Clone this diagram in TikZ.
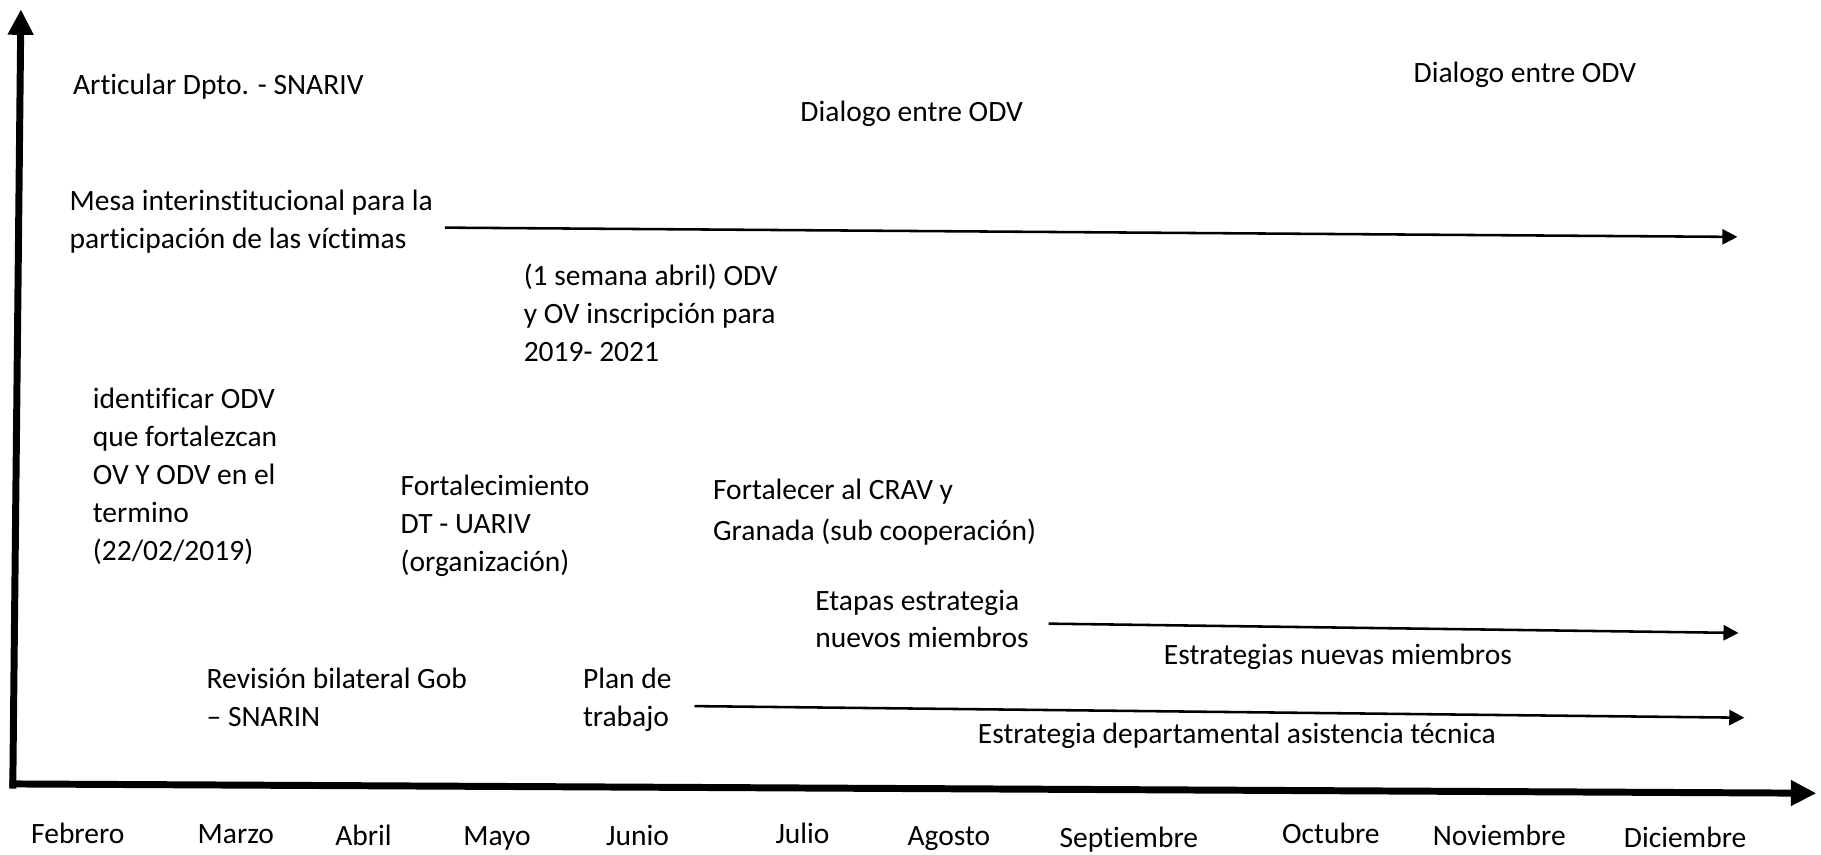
\documentclass[tikz,border=0pt]{standalone}
\usepackage{fontspec}
\setmainfont{Carlito}[Ligatures=NoCommon]
\usetikzlibrary{arrows.meta}
\newcommand{\mlines}[1]{\begin{tabular}[t]{@{}l@{}}#1\end{tabular}}
\begin{document}
\begin{tikzpicture}[x=1pt,y=-1pt,
  lbl/.style={inner sep=0pt, outer sep=0pt, font=\fontsize{25.4}{32.7}\selectfont},
  axis/.style={line width=6pt, -{Triangle[length=22pt,width=21pt]}},
  tl/.style={line width=2.2pt, -{Triangle[length=13pt,width=13pt]}}]
\useasboundingbox (0,0) rectangle (1568,736);
% axes
\coordinate (vb) at (11,679);
\coordinate (vt) at (18,8);
\coordinate (hl) at (8,675);
\coordinate (hr) at (1564,683);
\draw[axis] (vb) -- (vt);
\draw[axis] (hl) -- (hr);
% months
\foreach \n/\x/\y in {Febrero/67/726, Marzo/203/726, Abril/313/728, Mayo/428/728, Junio/549/728, Julio/691/726, Agosto/817/728, Septiembre/972/730, Octubre/1146/726, Noviembre/1291/728, Diciembre/1451/730}
  \node[lbl, anchor=base] (m\n) at (\x,\y) {\n};
% labels
\node[lbl, anchor=base west] (art) at (63,81) {Articular Dpto. - SNARIV};
\node[lbl, anchor=base] (dia1) at (785,105) {Dialogo entre ODV};
\node[lbl, anchor=base] (dia2) at (1313,71) {Dialogo entre ODV};
\node[lbl, anchor=base west] (mesa) at (60,181) {\mlines{Mesa interinstitucional para la\\participación de las víctimas}};
\node[lbl, anchor=base west] (sem) at (451,246) {\mlines{(1 semana abril) ODV\\y OV inscripción para\\2019- 2021}};
\node[lbl, anchor=base west] (ident) at (80,352) {\mlines{identificar ODV\\que fortalezcan\\OV Y ODV en el\\termino\\(22/02/2019)}};
\node[lbl, anchor=base west] (fortm) at (345,427) {\mlines{Fortalecimiento\\DT - UARIV\\(organización)}};
\node[lbl, anchor=base west, font=\fontsize{25.4}{35}\selectfont] (crav) at (614,430) {\mlines{Fortalecer al CRAV y\\Granada (sub cooperación)}};
\node[lbl, anchor=base west, font=\fontsize{25.4}{31.5}\selectfont] (etap) at (702,526) {\mlines{Etapas estrategia\\nuevos miembros}};
\node[lbl, anchor=base] (estn) at (1152,572) {Estrategias nuevas miembros};
\node[lbl, anchor=base west] (rev) at (178,593) {\mlines{Revisión bilateral Gob\\– SNARIN}};
\node[lbl, anchor=base west] (plan) at (502,593) {\mlines{Plan de\\trabajo}};
\node[lbl, anchor=base] (estd) at (1065,640) {Estrategia departamental asistencia técnica};
% timeline arrows
\coordinate (a1s) at (383,196);
\coordinate (a1e) at (1496,204);
\coordinate (a2s) at (903,537);
\coordinate (a2e) at (1497,545);
\coordinate (a3s) at (598,608);
\coordinate (a3e) at (1502,618);
\draw[tl] (a1s) -- (a1e);
\draw[tl] (a2s) -- (a2e);
\draw[tl] (a3s) -- (a3e);
\end{tikzpicture}
\end{document}
